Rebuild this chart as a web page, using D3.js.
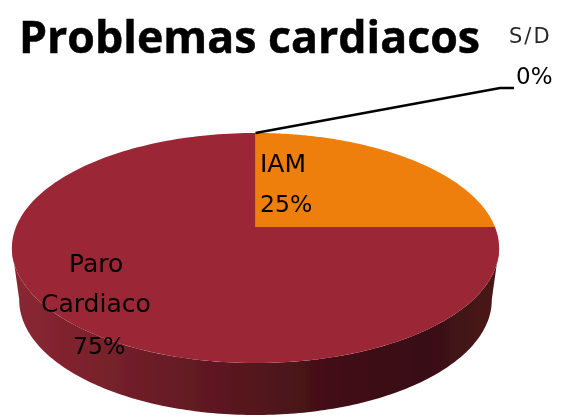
<!DOCTYPE html>
<html><head><meta charset="utf-8">
<script src="https://cdnjs.cloudflare.com/ajax/libs/d3/7.8.5/d3.min.js"></script>
<style>html,body{margin:0;padding:0;background:#fff}svg{display:block}text{font-family:"DejaVu Sans",sans-serif;fill:#000}</style>
</head><body><svg id="c" width="562" height="416"></svg>
<script>
const categories = ["IAM", "S/D", "Paro Cardiaco"];
const values = [25, 0, 75];
const colors = ["#ee7f07", "#888888", "#9b2735"];
const titleText = "Problemas cardiacos";

(function () {
const svg = d3.select("#c");
const pie = d3.pie().sort(null).value(d => d)(values);

// Perspective projection of the unit disc onto the page
const cx = 255.5, apexY = 227, B = 239.5, A = 111.2, c = 0.1826;
const proj = (a, r = 1, dy = 0, k = 1) => {
  const u = r * Math.sin(a), v = r * Math.cos(a), w = 1 + c * v;
  return [cx + k * B * u / w, apexY - A * v / w + dy];
};
const line = d3.line();
const sample = (a0, a1, dy = 0, k = 1) => d3.range(0, 181).map(i => proj(a0 + (a1 - a0) * i / 180, 1, dy, k));

const defs = svg.append("defs");
const g = defs.append("linearGradient").attr("id", "side");
[[0, "#8a2733"], [0.15, "#7c222d"], [0.4, "#5f1922"], [0.65, "#431016"], [0.85, "#381012"], [1, "#4c1519"]]
  .forEach(([o, col]) => g.append("stop").attr("offset", o).attr("stop-color", col));
defs.append("filter").attr("id", "soft").append("feGaussianBlur").attr("stdDeviation", 0.5);

const root = svg.append("g").attr("filter", "url(#soft)");

// side wall: lower half of the rim, extruded downward
const depth = 52, kLow = 0.97;
const widest = Math.PI / 2 + 0.18;
const topRim = sample(2 * Math.PI - widest, widest);
const lowRim = sample(widest, 2 * Math.PI - widest, depth, kLow);
root.append("path").attr("d", line(topRim.concat(lowRim)) + "Z").attr("fill", "url(#side)");

// top face
pie.forEach((s, i) => {
  if (s.endAngle - s.startAngle <= 0) return;
  const pts = [proj(0, 0)].concat(sample(s.startAngle, s.endAngle));
  root.append("path").attr("d", line(pts) + "Z").attr("fill", colors[i]);
});

// leader line for the 0% slice, which sits at the top of the pie
const rimTop = proj(0);
root.append("path").attr("d", line([rimTop, [500, 88], [514, 88]]))
  .attr("fill", "none").attr("stroke", "#000").attr("stroke-width", 2.6);

const t = (txt, x, y, size, extra = {}) => {
  const e = root.append("text").attr("x", x).attr("y", y).attr("font-size", size).text(txt);
  Object.entries(extra).forEach(([k, v]) => e.attr(k, v));
  return e;
};
t(titleText, 19, 53, 44.7, {"font-weight": "bold", "style": "font-family:'Open Sans',sans-serif", "stroke": "#000", "stroke-width": 0.5});
t("S/D", 509, 43, 21, {"letter-spacing": 2, "fill-opacity": 0.85});
t(values[1] + "%", 516, 84, 23);
t(categories[0], 260, 172, 25);
t(values[0] + "%", 260, 212, 23.5);
t("Paro", 69, 272, 25);
t("Cardiaco", 41, 312, 25);
t(values[2] + "%", 73, 354, 23.5);
})();
</script></body></html>
